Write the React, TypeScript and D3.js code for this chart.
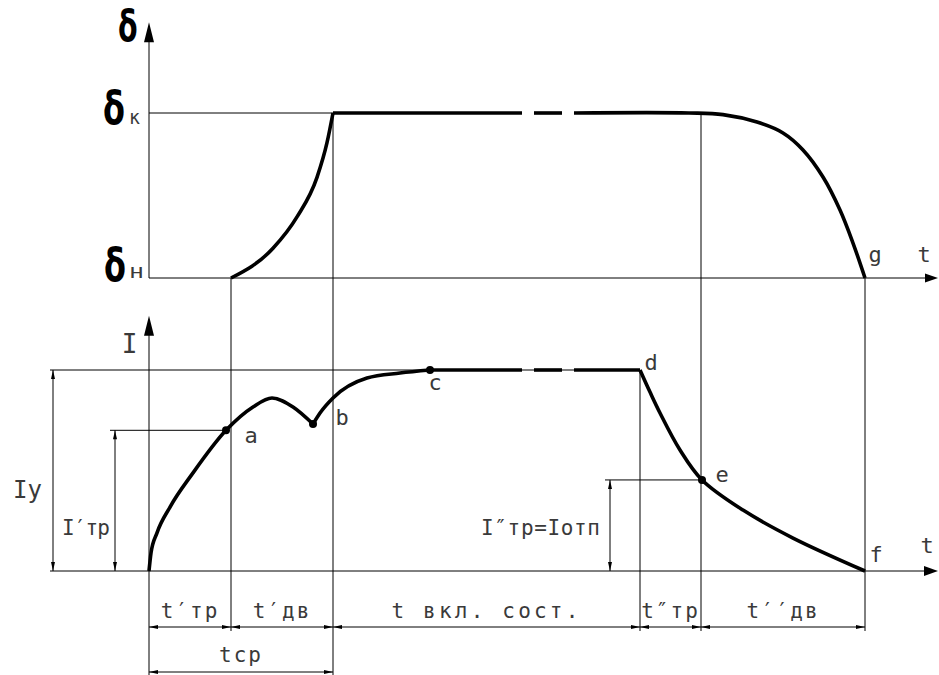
import React from "react";
import * as d3 from "d3";

// time axis (ms-like units), key instants
const timeMarks = [0, 82, 184, 491, 552, 716];
const segmentLabels = ["t′тр", "t′дв", "t вкл. сост.", "t″тр", "t′′дв"];
const totalLabel = "tср";

// contact gap δ (0 = δн, 1 = δк)
const deltaRise: [number, number][] = [[82, 0], [124, 0.18], [148, 0.37], [168, 0.61], [178, 0.82], [184, 1]];
const deltaPlateau: [number, number][] = [[184, 1], [373, 1]];
const deltaDash: [number, number][] = [[385, 1], [413, 1]];
const deltaFall: [number, number][] = [[425, 1], [540, 1], [574, 0.99], [608, 0.945], [634, 0.879], [654, 0.776], [674, 0.612], [691, 0.412], [704, 0.212], [716, 0]];

// current I (1 = Iу)
const currentRise: [number, number][] = [[0, 0], [2, 0.09], [8, 0.19], [21, 0.318], [44, 0.488], [77, 0.7], [104, 0.816], [123, 0.861], [144, 0.816], [164, 0.731]];
const currentRecover: [number, number][] = [[164, 0.731], [171, 0.786], [184, 0.861], [218, 0.96], [251, 0.985], [281, 1]];
const currentPlateau: [number, number][] = [[281, 1], [373, 1]];
const currentDash: [number, number][] = [[385, 1], [413, 1]];
const currentPlateau2: [number, number][] = [[425, 1], [491, 1]];
const currentFall: [number, number][] = [[491, 1], [501, 0.89], [511, 0.786], [531, 0.602], [553, 0.453], [594, 0.303], [644, 0.164], [716, 0]];

const points = [
  { name: "a", t: 77, i: 0.7 },
  { name: "b", t: 164, i: 0.731 },
  { name: "c", t: 281, i: 1 },
  { name: "e", t: 553, i: 0.453 },
];
const levels = { Iy: 1, Itr1: 0.7, Itr2: 0.453 };

const FONT = "'DejaVu Sans Mono', monospace";
const TXT = "#3a3a3a";
const GREEK = "'DejaVu Sans', sans-serif";

export default function App() {
  const x = d3.scaleLinear().domain([0, 789]).range([149, 938]);
  const yD = d3.scaleLinear().domain([0, 1]).range([278, 113]);
  const yI = d3.scaleLinear().domain([0, 1]).range([571, 370]);

  const lineD = d3.line<[number, number]>().x(d => x(d[0])).y(d => yD(d[1])).curve(d3.curveMonotoneX);
  const lineDFall = d3.line<[number, number]>().x(d => x(d[0])).y(d => yD(d[1])).curve(d3.curveCatmullRom.alpha(0.5));
  const lineI = d3.line<[number, number]>().x(d => x(d[0])).y(d => yI(d[1])).curve(d3.curveMonotoneX);
  const lineIFall = d3.line<[number, number]>().x(d => x(d[0])).y(d => yI(d[1])).curve(d3.curveCatmullRom.alpha(0.5));

  const thick = { fill: "none", stroke: "#000", strokeWidth: 3.6, strokeLinejoin: "round" as const };
  const thin = { stroke: "#000", strokeWidth: 1 };

  const dimArrow = (px: number, py: number, dx: number, dy: number, len = 9, w = 2) => {
    const bx = px - dx * len, by = py - dy * len;
    const nx = -dy * w, ny = dx * w;
    return `M${px},${py}L${bx + nx},${by + ny}L${bx - nx},${by - ny}Z`;
  };

  const rowY = 627;
  const totalY = 672;
  const xs = timeMarks.map(t => x(t));

  return (
    <svg width={939} height={675} style={{ position: "absolute", left: 0, top: 0, background: "#fff" }}>
      <rect x={0} y={0} width={939} height={675} fill="#fff" />

      {/* ---------- top panel: δ ---------- */}
      <line x1={x(0)} y1={yD(1.55) + 18} x2={x(0)} y2={yD(0)} {...thin} />
      <path d={`M${x(0)},${yD(1.55)}L${x(0) - 5},${yD(1.55) + 20}L${x(0) + 5},${yD(1.55) + 20}Z`} fill="#000" />
      <line x1={x(0)} y1={yD(1)} x2={x(184)} y2={yD(1)} {...thin} />
      <line x1={x(0)} y1={yD(0)} x2={x(789) - 10} y2={yD(0)} {...thin} />
      <path d={`M${x(789)},${yD(0)}L${x(789) - 13},${yD(0) - 4.5}L${x(789) - 13},${yD(0) + 4.5}Z`} fill="#000" />

      <path d={lineD(deltaRise)!} {...thick} />
      <path d={lineD(deltaPlateau)!} {...thick} />
      <path d={lineD(deltaDash)!} {...thick} />
      <path d={lineDFall(deltaFall)!} {...thick} />

      <text transform="translate(118,41) scale(0.68,1)" fontFamily={GREEK} fontWeight="bold" fontSize={42}>δ</text>
      <text transform="translate(103,124) scale(0.68,1)" fontFamily={GREEK} fontWeight="bold" fontSize={47}>δ</text>
      <text x={129} y={124} fontFamily={FONT} fontSize={19} fill={TXT} textLength={11} lengthAdjust="spacingAndGlyphs">к</text>
      <text transform="translate(104,281) scale(0.68,1)" fontFamily={GREEK} fontWeight="bold" fontSize={47}>δ</text>
      <text x={129} y={278} fontFamily={FONT} fontSize={19} fill={TXT} textLength={15} lengthAdjust="spacingAndGlyphs">н</text>
      <text x={875} y={262} fontFamily={FONT} fontSize={22} fill={TXT} textAnchor="middle">g</text>
      <text x={924} y={262} fontFamily={FONT} fontSize={22} fill={TXT} textAnchor="middle">t</text>

      {/* ---------- vertical extension lines ---------- */}
      <line x1={xs[1]} y1={yD(0)} x2={xs[1]} y2={rowY + 4} {...thin} />
      <line x1={xs[2]} y1={yD(1)} x2={xs[2]} y2={675} {...thin} />
      <line x1={xs[3]} y1={yI(1)} x2={xs[3]} y2={rowY + 4} {...thin} />
      <line x1={xs[4]} y1={yD(1)} x2={xs[4]} y2={rowY + 4} {...thin} />
      <line x1={xs[5]} y1={yD(0)} x2={xs[5]} y2={rowY + 4} {...thin} />

      {/* ---------- bottom panel: I ---------- */}
      <line x1={x(0)} y1={yI(1.27) + 18} x2={x(0)} y2={675} {...thin} />
      <path d={`M${x(0)},${yI(1.27)}L${x(0) - 5},${yI(1.27) + 20}L${x(0) + 5},${yI(1.27) + 20}Z`} fill="#000" />
      <line x1={x(-99)} y1={yI(0)} x2={x(789) - 10} y2={yI(0)} {...thin} />
      <path d={`M${x(789)},${yI(0)}L${x(789) - 14},${yI(0) - 5}L${x(789) - 14},${yI(0) + 5}Z`} fill="#000" />
      <line x1={x(-99)} y1={yI(levels.Iy)} x2={x(491)} y2={yI(levels.Iy)} {...thin} />
      <line x1={x(-39)} y1={yI(levels.Itr1)} x2={x(77)} y2={yI(levels.Itr1)} {...thin} />
      <line x1={x(456)} y1={yI(levels.Itr2)} x2={x(553)} y2={yI(levels.Itr2)} {...thin} />

      {[
        { t: -96, v: levels.Iy },
        { t: -34, v: levels.Itr1 },
        { t: 461, v: levels.Itr2 },
      ].map((d, k) => (
        <g key={k}>
          <line x1={x(d.t)} y1={yI(d.v)} x2={x(d.t)} y2={yI(0)} {...thin} />
          <path d={dimArrow(x(d.t), yI(d.v), 0, -1)} fill="#000" />
          <path d={dimArrow(x(d.t), yI(0), 0, 1)} fill="#000" />
        </g>
      ))}

      <path d={lineI(currentRise)!} {...thick} />
      <path d={lineI(currentRecover)!} {...thick} />
      <path d={lineI(currentPlateau)!} {...thick} />
      <path d={lineI(currentDash)!} {...thick} />
      <path d={lineI(currentPlateau2)!} {...thick} />
      <path d={lineIFall(currentFall)!} {...thick} />

      {points.map(p => (
        <circle key={p.name} cx={x(p.t)} cy={yI(p.i)} r={4} fill="#000" />
      ))}

      <text x={129.5} y={353} fontFamily={FONT} fontSize={26} fill={TXT} textAnchor="middle">I</text>
      <text x={13} y={498} fontFamily={FONT} fontSize={24} fill={TXT} textLength={29} lengthAdjust="spacingAndGlyphs">Iу</text>
      <text x={62} y={535} fontFamily={FONT} fontSize={21} fill={TXT} textLength={48} lengthAdjust="spacing">I′тр</text>
      <text x={481} y={535} fontFamily={FONT} fontSize={21} fill={TXT} textLength={119} lengthAdjust="spacing">I″тр=Iотп</text>
      <text x={251} y={443} fontFamily={FONT} fontSize={22} fill={TXT} textAnchor="middle">a</text>
      <text x={342} y={425} fontFamily={FONT} fontSize={22} fill={TXT} textAnchor="middle">b</text>
      <text x={435} y={390} fontFamily={FONT} fontSize={22} fill={TXT} textAnchor="middle">c</text>
      <text x={651} y={370} fontFamily={FONT} fontSize={22} fill={TXT} textAnchor="middle">d</text>
      <text x={722} y={482} fontFamily={FONT} fontSize={22} fill={TXT} textAnchor="middle">e</text>
      <text x={876} y={562} fontFamily={FONT} fontSize={22} fill={TXT} textAnchor="middle">f</text>
      <text x={927} y={553} fontFamily={FONT} fontSize={22} fill={TXT} textAnchor="middle">t</text>

      {/* ---------- time dimensions ---------- */}
      <line x1={xs[0]} y1={rowY} x2={xs[5]} y2={rowY} {...thin} />
      {segmentLabels.map((lab, k) => {
        const a = xs[k], b = xs[k + 1];
        return (
          <g key={k}>
            <path d={dimArrow(a, rowY, -1, 0)} fill="#000" />
            <path d={dimArrow(b, rowY, 1, 0)} fill="#000" />
            <text x={(a + b) / 2} y={618} fontFamily={FONT} fontSize={21} fill={TXT} textAnchor="middle"
              letterSpacing={lab.length > 6 ? 3.2 : 2}>{lab}</text>
          </g>
        );
      })}
      <line x1={xs[0]} y1={totalY} x2={xs[2]} y2={totalY} {...thin} />
      <path d={dimArrow(xs[0], totalY, -1, 0)} fill="#000" />
      <path d={dimArrow(xs[2], totalY, 1, 0)} fill="#000" />
      <text x={(xs[0] + xs[2]) / 2} y={662} fontFamily={FONT} fontSize={21} fill={TXT} textAnchor="middle" letterSpacing={2}>{totalLabel}</text>
    </svg>
  );
}
